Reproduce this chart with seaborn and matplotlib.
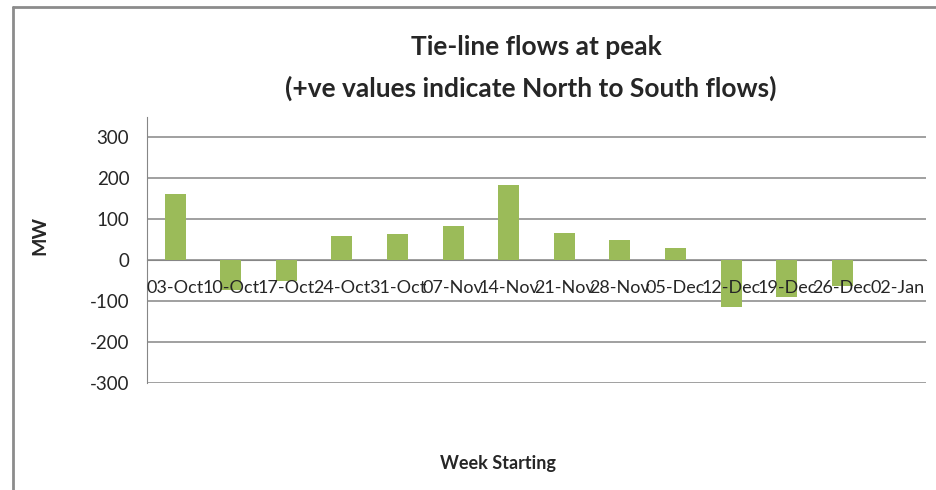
import matplotlib
matplotlib.use("Agg")
import pandas as pd
import seaborn as sns
import matplotlib.pyplot as plt
from matplotlib.lines import Line2D

weeks = ["03-Oct", "10-Oct", "17-Oct", "24-Oct", "31-Oct", "07-Nov", "14-Nov",
         "21-Nov", "28-Nov", "05-Dec", "12-Dec", "19-Dec", "26-Dec", "02-Jan"]
flows_mw = [162, -73, -51, 58, 64, 84, 183, 67, 50, 30, -114, -89, -63, 0]
y_ticks = [-300, -200, -100, 0, 100, 200, 300]

df = pd.DataFrame({"Week": weeks, "MW": flows_mw})

sns.set_style("white")
plt.rcParams["font.family"] = ["Lato", "DejaVu Sans"]

fig = plt.figure(figsize=(9.36, 4.9), dpi=100)
ax = fig.add_axes([0.1574, 0.2184, 0.8316, 0.5434])

grid_col = "#868686"
sns.barplot(data=df, x="Week", y="MW", color="#9BBB59", width=0.38,
            saturation=1, linewidth=0, ax=ax, zorder=3)

ax.set_ylim(-300, 350)
ax.set_xlim(-0.5, len(weeks) - 0.5)
ax.set_yticks(y_ticks)
ax.set_yticklabels([str(v) for v in y_ticks], fontsize=13.5)
for v in y_ticks:
    ax.axhline(v, color=grid_col, lw=1.1, zorder=1)

# category boundary ticks on the zero line
ax.set_xticks([i - 0.5 for i in range(len(weeks) + 1)])
ax.set_xticklabels([])
ax.spines["bottom"].set_position(("data", 0))
ax.spines["bottom"].set_color(grid_col)
ax.spines["left"].set_color(grid_col)
ax.spines["top"].set_visible(False)
ax.spines["right"].set_visible(False)
ax.tick_params(axis="x", direction="out", length=5, color=grid_col, width=1)
ax.tick_params(axis="y", direction="out", length=6, color=grid_col, width=1, pad=7)
ax.set_xlabel("")
ax.set_ylabel("")

for i, w in enumerate(weeks):
    ax.text(i, -69, w, ha="center", va="center", fontsize=13, zorder=5)

fig.text(0.573, 0.904, "Tie-line flows at peak", ha="center", va="center",
         fontsize=19, fontweight="bold")
fig.text(0.567, 0.82, "(+ve values indicate North to South flows)", ha="center",
         va="center", fontsize=19, fontweight="bold")
fig.text(0.043, 0.52, "MW", rotation=90, ha="center", va="center",
         fontsize=14, fontweight="bold")
fig.text(0.532, 0.055, "Week Starting", ha="center", va="center",
         fontsize=13, fontweight="bold")

# outer chart frame
fig.add_artist(Line2D([13 / 936, 13 / 936], [0, 1 - 7 / 490],
                      transform=fig.transFigure, color="#8C8C8C", lw=2))
fig.add_artist(Line2D([13 / 936, 1], [1 - 7 / 490, 1 - 7 / 490],
                      transform=fig.transFigure, color="#8C8C8C", lw=2))

fig.savefig("out.png", dpi=100)
plt.close(fig)
